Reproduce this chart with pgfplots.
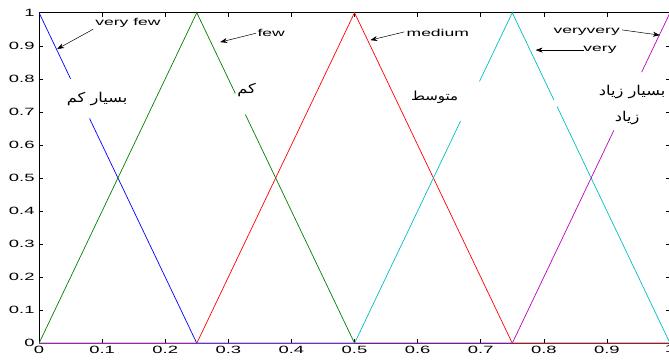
\documentclass[border=0pt]{standalone}
\usepackage{fontspec}
\setmainfont{Liberation Sans}[FakeStretch=1.75]
\newfontfamily\arabicfont[Script=Arabic,FakeStretch=1.2]{DejaVu Sans}
\TeXXeTstate=1
\usepackage{pgfplots}
\pgfplotsset{compat=1.18}
\usetikzlibrary{arrows.meta}

\definecolor{mblue}{rgb}{0,0,1}
\definecolor{mgreen}{rgb}{0,0.5,0}
\definecolor{mred}{rgb}{1,0,0}
\definecolor{mcyan}{rgb}{0,0.75,0.75}
\definecolor{mmag}{rgb}{0.75,0,0.75}

\begin{document}
\begin{tikzpicture}
\begin{axis}[
    scale only axis,
    width=630pt, height=330pt,
    xmin=0, xmax=1, ymin=0, ymax=1,
    xtick={0,0.1,...,1}, ytick={0,0.1,...,1},
    tick align=inside,
    major tick length=4pt,
    axis line style={black, line width=1.1pt},
    tick style={black, line width=0.5pt},
    /pgf/number format/assume math mode=true,
    tick label style={font=\fontsize{10.5}{12}\selectfont},
    yticklabel style={xshift=-1pt},
    xticklabel style={yshift=1pt},
    unbounded coords=jump,
    every axis plot/.append style={line width=0.7pt},
    clip=false,
]
% very few
\addplot[mblue] coordinates {(0,1) (0.05,0.8) (0.065,nan) (0.08,0.68) (0.25,0) (1,0)};
% few
\addplot[mgreen] coordinates {(0,0) (0.25,1) (0.311,0.756) (0.32,nan) (0.327,0.692) (0.5,0) (1,0)};
% medium
\addplot[mred] coordinates {(0,0) (0.25,0) (0.5,1) (0.75,0) (1,0)};
% very
\addplot[mcyan] coordinates {(0,0) (0.5,0) (0.668,0.672) (0.68,nan) (0.698,0.792) (0.75,1) (0.816,0.736) (0.818,nan) (0.821,0.716) (1,0)};
% very very
\addplot[mmag] coordinates {(0,0) (0.75,0) (0.911,0.644) (0.93,nan) (0.955,0.82) (1,1)};

\begin{scope}[-{Stealth[length=7pt,width=5pt]}, black, line width=0.5pt]
\draw (axis cs:0.0857,0.950) -- (axis cs:0.0286,0.890);
\draw (axis cs:0.344,0.938) -- (axis cs:0.287,0.911);
\draw (axis cs:0.579,0.942) -- (axis cs:0.525,0.917);
\draw (axis cs:0.924,0.948) -- (axis cs:0.984,0.932);
\draw (axis cs:0.863,0.887) -- (axis cs:0.787,0.887);
\end{scope}

\node[font=\fontsize{10}{12}\selectfont] at (axis cs:0.141,0.969) {very few};
\node[font=\fontsize{10}{12}\selectfont] at (axis cs:0.368,0.938) {few};
\node[font=\fontsize{10}{12}\selectfont] at (axis cs:0.632,0.938) {medium};
\node[font=\fontsize{10}{12}\selectfont] at (axis cs:0.868,0.942) {veryvery};
\node[font=\fontsize{10}{12}\selectfont] at (axis cs:0.889,0.887) {very};

\node[font=\arabicfont\fontsize{13.5}{15}\selectfont] at (axis cs:0.092,0.738) {\beginR بسیار کم\endR};
\node[font=\arabicfont\fontsize{13.5}{15}\selectfont] at (axis cs:0.329,0.766) {\beginR کم\endR};
\node[font=\arabicfont\fontsize{12.5}{15}\selectfont] at (axis cs:0.627,0.745) {\beginR متوسط\endR};
\node[font=\arabicfont\fontsize{13.5}{15}\selectfont] at (axis cs:0.940,0.760) {\beginR بسیار زیاد\endR};
\node[font=\arabicfont\fontsize{13.5}{15}\selectfont] at (axis cs:0.932,0.681) {\beginR زیاد\endR};
\end{axis}
\pgfresetboundingbox
\path[use as bounding box] ([xshift=-39pt,yshift=-19.3pt]current axis.south west) rectangle ([xshift=-1pt,yshift=12.7pt]current axis.north east);
\end{tikzpicture}
\end{document}
